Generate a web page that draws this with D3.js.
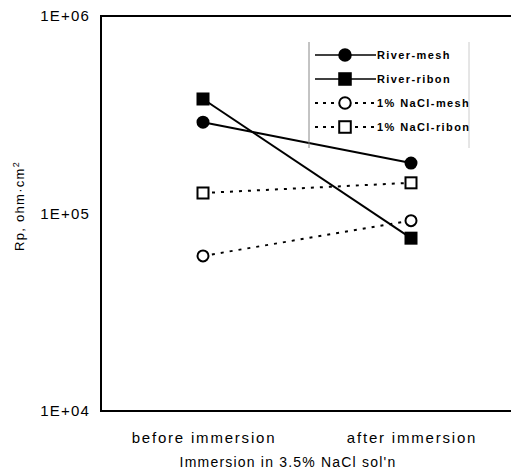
<!DOCTYPE html>
<html>
<head>
<meta charset="utf-8">
<script src="https://d3js.org/d3.v7.min.js"></script>
<style>
  body { margin: 0; background: #fff; }
  text { font-family: "Liberation Sans", Arial, sans-serif; fill: #000; }
</style>
</head>
<body>
<div id="chart"></div>
<script>
const categories = ["before immersion", "after immersion"];
const seriesNames = ["River-mesh", "River-ribon", "1% NaCl-mesh", "1% NaCl-ribon"];
const riverMesh = [290000, 180000];
const riverRibon = [380000, 75000];
const naclMesh = [61000, 92000];
const naclRibon = [127000, 143000];
const yTicks = [1e4, 1e5, 1e6];
const yTickLabels = ["1E+04", "1E+05", "1E+06"];

const width = 511, height = 472;
const margin = {left: 101, top: 16, right: 0, bottom: 61};

const series = [
  {name: seriesNames[0], values: riverMesh, shape: "circle", filled: true, dashed: false},
  {name: seriesNames[1], values: riverRibon, shape: "square", filled: true, dashed: false},
  {name: seriesNames[2], values: naclMesh, shape: "circle", filled: false, dashed: true},
  {name: seriesNames[3], values: naclRibon, shape: "square", filled: false, dashed: true}
];

const svg = d3.select("#chart").append("svg")
  .attr("width", width)
  .attr("height", height);

const x = d3.scalePoint()
  .domain(categories)
  .range([203, 411]);

const y = d3.scaleLog()
  .domain([1e4, 1e6])
  .range([height - margin.bottom, margin.top]);

// frame: left, top, bottom
svg.append("path")
  .attr("d", `M${width},${margin.top}H${margin.left}V${height - margin.bottom}H${width}`)
  .attr("fill", "none")
  .attr("stroke", "#000")
  .attr("stroke-width", 2);

// y tick labels
svg.selectAll(".ytick")
  .data(yTicks)
  .enter()
  .append("text")
    .attr("x", 90)
    .attr("y", (d) => y(d) + 5)
    .attr("text-anchor", "end")
    .style("font-size", "15px")
    .style("letter-spacing", "1.2px")
    .text((d, i) => yTickLabels[i]);

// x tick labels
svg.selectAll(".xtick")
  .data(categories)
  .enter()
  .append("text")
    .attr("x", (d) => x(d) + 1)
    .attr("y", 443)
    .attr("text-anchor", "middle")
    .style("font-size", "15px")
    .style("letter-spacing", "1.8px")
    .text((d) => d);

// axis titles
svg.append("text")
  .attr("x", 288)
  .attr("y", 467)
  .attr("text-anchor", "middle")
  .style("font-size", "14px")
  .style("letter-spacing", "1.2px")
  .text("Immersion in 3.5% NaCl sol'n");

const yTitle = svg.append("text")
  .attr("transform", "translate(24,206) rotate(-90)")
  .attr("text-anchor", "middle")
  .style("font-size", "13px")
  .style("letter-spacing", "1.3px");
yTitle.append("tspan").text("Rp, ohm·cm");
yTitle.append("tspan").attr("dy", -5).style("font-size", "9px").text("2");

const line = d3.line()
  .x((d, i) => x(categories[i]))
  .y((d) => y(d));

const drawMarker = (g, s, cx, cy, scale) => {
  if (s.shape === "circle") {
    g.append("circle")
      .attr("cx", cx).attr("cy", cy).attr("r", 5.5 * scale)
      .attr("fill", s.filled ? "#000" : "#fff")
      .attr("stroke", "#000").attr("stroke-width", 2);
  } else {
    const h = 5.5 * scale;
    g.append("rect")
      .attr("x", cx - h).attr("y", cy - h).attr("width", 2 * h).attr("height", 2 * h)
      .attr("fill", s.filled ? "#000" : "#fff")
      .attr("stroke", "#000").attr("stroke-width", 2);
  }
};

series.forEach((s) => {
  svg.append("path")
    .datum(s.values)
    .attr("d", line)
    .attr("fill", "none")
    .attr("stroke", "#000")
    .attr("stroke-width", 2)
    .attr("stroke-dasharray", s.dashed ? "3,6" : null);
});

series.forEach((s) => {
  s.values.forEach((v, i) => drawMarker(svg, s, x(categories[i]), y(v), 1));
});

// legend
const legend = svg.append("g");
legend.append("line")
  .attr("x1", 309).attr("x2", 309).attr("y1", 42).attr("y2", 148)
  .attr("stroke", "#888").attr("stroke-width", 1);
legend.append("line")
  .attr("x1", 469).attr("x2", 469).attr("y1", 42).attr("y2", 148)
  .attr("stroke", "#ccc").attr("stroke-width", 1);

series.forEach((s, i) => {
  const ly = 55 + i * 24;
  legend.append("line")
    .attr("x1", 315).attr("x2", 376).attr("y1", ly).attr("y2", ly)
    .attr("stroke", "#000")
    .attr("stroke-width", s.dashed ? 2 : 1.5)
    .attr("stroke-dasharray", s.dashed ? "3,5" : null);
  drawMarker(legend, s, 345, ly, 1.05);
  legend.append("text")
    .attr("x", 377)
    .attr("y", ly + 4)
    .style("font-size", "11px")
    .style("font-weight", "bold")
    .style("letter-spacing", "1.4px")
    .text(s.name);
});
</script>
</body>
</html>
